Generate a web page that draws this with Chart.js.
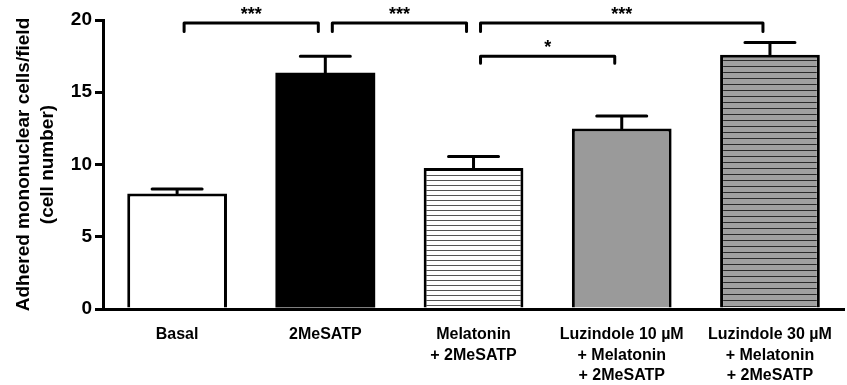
<!DOCTYPE html>
<html>
<head>
<meta charset="utf-8">
<script src="https://cdn.jsdelivr.net/npm/chart.js@4"></script>
<style>
  html, body { margin: 0; padding: 0; background: #fff; }
  #wrap { width: 847px; height: 385px; }
</style>
</head>
<body>
<div id="wrap"><canvas id="adhesionChart" width="847" height="385"></canvas></div>
<script>
const categories = [
  ["Basal"],
  ["2MeSATP"],
  ["Melatonin", "+ 2MeSATP"],
  ["Luzindole 10 µM", "+ Melatonin", "+ 2MeSATP"],
  ["Luzindole 30 µM", "+ Melatonin", "+ 2MeSATP"]
];
const means = [8.0, 16.35, 9.75, 12.5, 17.6];
const sem = [0.3, 1.15, 0.8, 0.85, 0.85];
const yTicks = [0, 5, 10, 15, 20];

// significance brackets: [from, to], height, drop, label
const bracketPairs = [[0, 1], [1, 2], [2, 4], [2, 3]];
const bracketHeights = [19.8, 19.8, 19.8, 17.5];
const bracketDrops = [0.6, 0.6, 0.6, 0.5];
const bracketLabels = ["***", "***", "***", "*"];

const FONT = "'Liberation Sans', Arial, sans-serif";

function stripes(bg, line, gap) {
  const c = document.createElement("canvas");
  c.width = 8; c.height = gap;
  const g = c.getContext("2d");
  g.fillStyle = bg;
  g.fillRect(0, 0, 8, gap);
  g.fillStyle = line;
  g.fillRect(0, 0, 8, 1);
  return g.createPattern(c, "repeat");
}

const ctx = document.getElementById("adhesionChart").getContext("2d");
const fills = [
  "#ffffff",
  "#000000",
  stripes("#ffffff", "#555555", 5.6),
  "#9a9a9a",
  stripes("#a0a0a0", "#2a2a2a", 6)
];

const overlay = {
  id: "overlay",
  afterDatasetsDraw(chart) {
    const { ctx } = chart;
    const x = chart.scales.x, y = chart.scales.y;
    ctx.save();
    ctx.strokeStyle = "#000";
    ctx.lineWidth = 3;
    ctx.lineCap = "round";
    // error bars (upper only)
    means.forEach((m, i) => {
      const cx = x.getPixelForValue(i);
      const top = y.getPixelForValue(m + sem[i]);
      const base = y.getPixelForValue(m);
      ctx.beginPath();
      ctx.moveTo(cx, base);
      ctx.lineTo(cx, top);
      ctx.moveTo(cx - 25, top);
      ctx.lineTo(cx + 25, top);
      ctx.stroke();
    });
    // brackets
    ctx.lineJoin = "round";
    ctx.font = "bold 18px " + FONT;
    ctx.textAlign = "center";
    ctx.textBaseline = "bottom";
    ctx.fillStyle = "#000";
    bracketPairs.forEach((p, k) => {
      const x1 = x.getPixelForValue(p[0]) + 7;
      const x2 = x.getPixelForValue(p[1]) - 7;
      const yt = y.getPixelForValue(bracketHeights[k]);
      const yb = y.getPixelForValue(bracketHeights[k] - bracketDrops[k]);
      ctx.beginPath();
      ctx.moveTo(x1, yb);
      ctx.lineTo(x1, yt);
      ctx.lineTo(x2, yt);
      ctx.lineTo(x2, yb);
      ctx.stroke();
      ctx.fillText(bracketLabels[k], (x1 + x2) / 2, yt + 1);
    });
    ctx.restore();
  }
};

new Chart(ctx, {
  type: "bar",
  data: {
    labels: categories,
    datasets: [{
      data: means,
      backgroundColor: fills,
      borderColor: "#000",
      borderWidth: [3, 0, 3, 3, 3],
      borderSkipped: "bottom",
      categoryPercentage: 1,
      barPercentage: 0.673
    }]
  },
  options: {
    responsive: false,
    animation: false,
    layout: { padding: { top: 20, right: 1, left: 0, bottom: 0 } },
    plugins: { legend: { display: false }, tooltip: { enabled: false } },
    scales: {
      x: {
        grid: { display: false, drawTicks: false },
        border: { display: true, color: "#000", width: 3 },
        ticks: {
          color: "#000",
          padding: 15,
          maxRotation: 0,
          autoSkip: false,
          font: { family: FONT, size: 16, weight: "bold", lineHeight: 1.3 }
        },
        afterFit(s) { s.height = 76; }
      },
      y: {
        min: 0,
        max: 20,
        afterBuildTicks(s) { s.ticks = yTicks.map(v => ({ value: v })); },
        grid: { display: true, drawOnChartArea: false, drawTicks: true, tickLength: 8, lineWidth: 3, color: "#000" },
        border: { display: true, color: "#000", width: 3 },
        ticks: {
          color: "#000",
          padding: 3,
          font: { family: FONT, size: 19, weight: "bold" }
        },
        title: {
          display: true,
          text: ["Adhered mononuclear cells/field", "(cell number)"],
          color: "#000",
          padding: { top: 12, bottom: 0 },
          font: { family: FONT, size: 19, weight: "bold", lineHeight: 1.26 }
        },
        afterFit(s) { s.width = 103; }
      }
    }
  },
  plugins: [overlay]
});
</script>
</body>
</html>
